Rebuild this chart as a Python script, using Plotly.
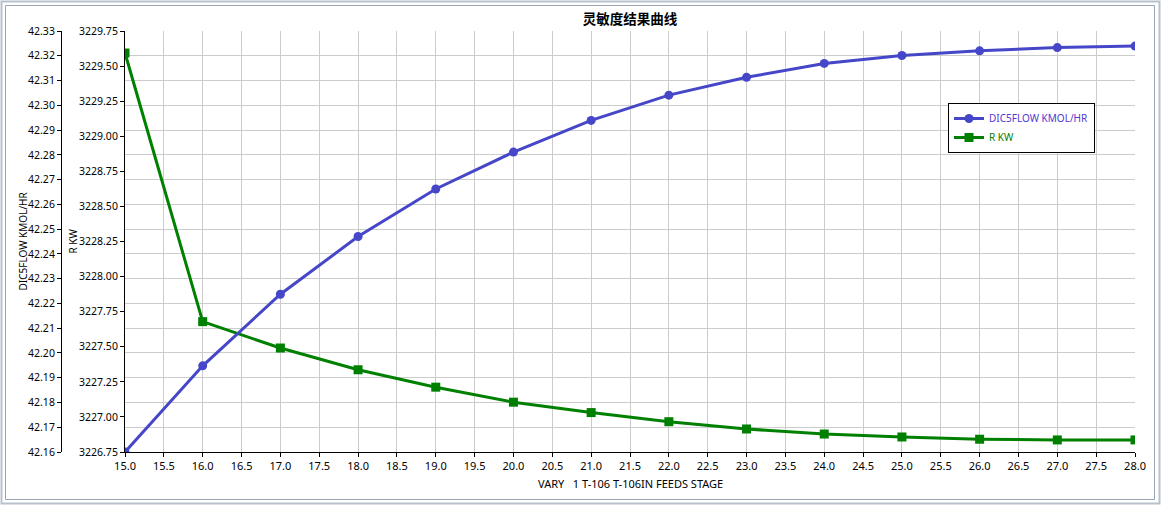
import plotly.graph_objects as go

W, H = 1161, 505

stage = [15, 16, 17, 18, 19, 20, 21, 22, 23, 24, 25, 26, 27, 28]
dic5flow = [42.1600, 42.1948, 42.2237, 42.2470, 42.2662, 42.2811, 42.2939, 42.3041,
            42.3113, 42.3169, 42.3201, 42.3220, 42.3233, 42.3239]
r_kw = [3229.593, 3227.679, 3227.491, 3227.336, 3227.212, 3227.105, 3227.031,
        3226.966, 3226.914, 3226.878, 3226.857, 3226.841, 3226.836, 3226.836]

BLUE = "#4646c8"
GREEN = "#008000"
FONT = "Noto Sans"
GRID = "#cccccc"

# pixel helpers for layout only
def px_x(p):
    return p / W

def px_y(p):
    return 1 - p / H

fig = go.Figure()

fig.add_trace(go.Scatter(
    x=stage, y=r_kw, name=f"<span style='color:{GREEN}'>R KW</span>",
    mode="lines+markers", yaxis="y",
    line=dict(color=GREEN, width=3),
    marker=dict(symbol="square", size=9, color=GREEN),
))

fig.add_trace(go.Scatter(
    x=stage, y=dic5flow, name=f"<span style='color:#5038d0'>DIC5FLOW KMOL/HR</span>",
    mode="lines+markers", yaxis="y2",
    line=dict(color=BLUE, width=3),
    marker=dict(symbol="circle", size=9, color=BLUE),
))

fig.update_layout(
    width=W, height=H,
    margin=dict(l=0, r=0, t=0, b=0, autoexpand=False),
    paper_bgcolor="white",
    plot_bgcolor="white",
    font=dict(family=FONT, size=11, color="black"),
    title=dict(text="<b>灵敏度结果曲线</b>", x=px_x(630), xanchor="center",
               y=px_y(19), yanchor="middle", automargin=False,
               font=dict(family="Noto Sans CJK SC", size=13.5, color="black")),
    xaxis=dict(
        domain=[px_x(125), px_x(1135)], automargin=False,
        range=[15, 28], dtick=0.5, tick0=15, tickformat=".1f",
        showgrid=True, gridcolor=GRID, gridwidth=1,
        showline=True, linecolor="black", linewidth=1,
        ticks="outside", ticklen=4, tickcolor="black",
        zeroline=False, fixedrange=True,
    ),
    yaxis=dict(
        domain=[px_y(452), px_y(31)], automargin=False,
        range=[3226.75, 3229.75], dtick=0.25, tick0=3226.75, tickformat=".2f",
        showgrid=False, anchor="x", side="left",
        showline=True, linecolor="black", linewidth=1,
        ticks="outside", ticklen=4, tickcolor="black",
        tickfont=dict(size=10.5),
        zeroline=False, fixedrange=True,
    ),
    yaxis2=dict(
        overlaying="y", anchor="free", position=px_x(61), side="left",
        automargin=False,
        range=[42.16, 42.33], dtick=0.01, tick0=42.16, tickformat=".2f",
        showgrid=True, gridcolor=GRID, gridwidth=1,
        showline=True, linecolor="black", linewidth=1,
        ticks="outside", ticklen=4, tickcolor="black",
        tickfont=dict(size=10.5),
        zeroline=False, fixedrange=True,
    ),
    legend=dict(
        x=px_x(948), y=px_y(103), xanchor="left", yanchor="top",
        bgcolor="white", bordercolor="black", borderwidth=1,
        font=dict(family=FONT, size=10),
        traceorder="reversed", itemwidth=30,
        tracegroupgap=0,
    ),
    showlegend=True,
)

fig.add_annotation(text="DIC5FLOW KMOL/HR", textangle=-90, showarrow=False,
                   xref="paper", yref="paper", x=px_x(22), y=px_y(241.5),
                   xanchor="center", yanchor="middle",
                   font=dict(family=FONT, size=10))
fig.add_annotation(text="R KW", textangle=-90, showarrow=False,
                   xref="paper", yref="paper", x=px_x(72), y=px_y(241.5),
                   xanchor="center", yanchor="middle",
                   font=dict(family=FONT, size=10))
fig.add_annotation(text="VARY\u00a0\u00a0\u00a01 T-106 T-106IN FEEDS STAGE", showarrow=False,
                   xref="paper", yref="paper", x=px_x(630), y=px_y(483),
                   xanchor="center", yanchor="middle",
                   font=dict(family=FONT, size=11))

# window frame
fig.add_shape(type="rect", xref="paper", yref="paper",
              x0=px_x(1.5), x1=px_x(1159.5), y0=px_y(503.5), y1=px_y(1.5),
              line=dict(color="#b8c2cf", width=2), layer="above")
fig.add_shape(type="rect", xref="paper", yref="paper",
              x0=px_x(5.5), x1=px_x(1154.5), y0=px_y(499.5), y1=px_y(5.5),
              line=dict(color="#9aa4b2", width=1), layer="above")

fig.write_html("out.html", config={"displayModeBar": False},
               post_script="document.body.style.margin='0';"
                           "document.body.style.overflow='hidden';")
